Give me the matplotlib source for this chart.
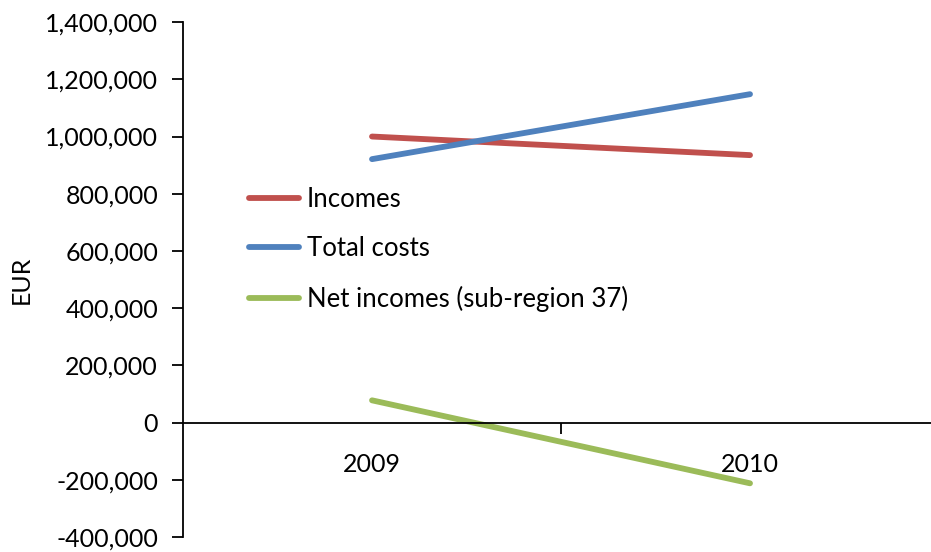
"""
Incomes, total costs and net incomes for sub-region 37, 2009-2010.
"""

import matplotlib.pyplot as plt
from matplotlib.ticker import FuncFormatter

plt.rcParams.update({
    "font.family": ["Lato", "DejaVu Sans"],
    "font.size": 18,
})

# Data (EUR)
years = ["2009", "2010"]
incomes = [1000000, 935000]
total_costs = [921000, 1148000]
net_incomes = [78000, -212000]

series_names = ["Incomes", "Total costs", "Net incomes (sub-region 37)"]
series_colors = ["#C0504D", "#4F81BD", "#9BBB59"]

fig = plt.figure(figsize=(9.31, 5.52), dpi=100)
ax = fig.add_axes([0.1966, 0.027, 0.812, 0.933])

x = list(range(len(years)))
for vals, name, col in zip([incomes, total_costs, net_incomes], series_names, series_colors):
    ax.plot(x, vals, color=col, linewidth=4.2, solid_capstyle="round", label=name)

# ---------- Axes ----------
ax.set_xlim(-0.5, len(years) - 0.5)
ax.set_ylim(-400000, 1400000)
ax.set_yticks(range(-400000, 1400001, 200000))
ax.yaxis.set_major_formatter(FuncFormatter(lambda v, p: f"{int(v):,}"))
ax.tick_params(axis="y", direction="out", length=8, width=1.3, pad=10)

# category labels without ticks, tick marks between categories
ax.set_xticks(x)
ax.set_xticklabels(years)
ax.set_xticks([i + 0.5 for i in x[:-1]], minor=True)
ax.tick_params(axis="x", which="major", length=0, pad=22)
ax.tick_params(axis="x", which="minor", direction="out", length=8, width=1.3)

ax.spines["bottom"].set_position(("data", 0))
ax.spines["top"].set_visible(False)
ax.spines["right"].set_visible(False)
for s in ["left", "bottom"]:
    ax.spines[s].set_linewidth(1.3)

ax.set_ylabel("EUR")
ax.yaxis.set_label_coords(-0.199, 0.5)

ax.legend(loc="upper left", bbox_to_anchor=(0.087, 0.68), frameon=False,
          handlelength=1.95, handletextpad=0.3, labelspacing=0.95, borderaxespad=0,
          borderpad=0, fontsize=18.5)

plt.savefig("out.png", dpi=100)
